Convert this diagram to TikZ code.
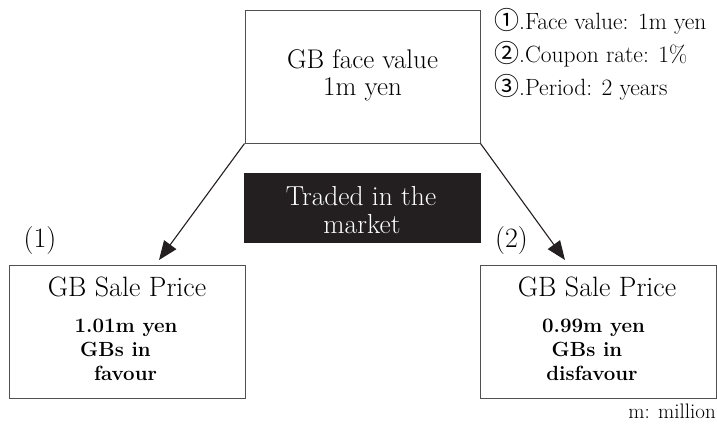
\documentclass[tikz,border=0pt]{standalone}
\usepackage{fontspec}
\newfontfamily\circfont{Noto Sans CJK JP}
\usetikzlibrary{arrows.meta}
\definecolor{ink}{RGB}{35,31,32}
\definecolor{edgegray}{RGB}{80,80,80}
\newcommand{\circnum}[1]{{\circfont\fontsize{25}{25}\selectfont #1}}
\begin{document}
\begin{tikzpicture}[x=1pt,y=-1pt,
  box/.style={draw=edgegray, line width=1pt, inner sep=0pt, fill=white},
  darkbox/.style={fill=ink, draw=ink, inner sep=0pt},
  big/.style={font=\fontsize{28}{28}\selectfont, inner sep=0pt, anchor=base},
  boldtxt/.style={font=\fontsize{20.5}{20.5}\selectfont\bfseries, inner sep=0pt, anchor=base},
  listtxt/.style={font=\fontsize{23.5}{23.5}\selectfont, inner sep=0pt, anchor=base west},
  arr/.style={draw=ink, line width=1.1pt, -{Triangle[length=19pt,width=15pt]}}]
\useasboundingbox (0,0) rectangle (717,424);
% boxes
\node[box, minimum width=235pt, minimum height=133pt] (top) at (362.5,76.5) {};
\node[darkbox, minimum width=236pt, minimum height=69pt] (market) at (362,207.5) {};
\node[box, minimum width=236pt, minimum height=133pt] (left) at (127,331.5) {};
\node[box, minimum width=236pt, minimum height=133pt] (right) at (598,331.5) {};
% top box text
\node[big, font=\fontsize{27}{27}\selectfont] (t1) at (362.5,68.5) {GB face value};
\node[big, font=\fontsize{27}{27}\selectfont] (t2) at (362.5,95.5) {1m yen};
% market text
\node[big, text=white, font=\fontsize{27.5}{27.5}\selectfont] (m1) at (361,205.5) {Traded in the};
\node[big, text=white, font=\fontsize{27.5}{27.5}\selectfont] (m2) at (362,233) {market};
% left box text
\node[big] (l1) at (127,296) {GB Sale Price};
\node[boldtxt] (l2) at (126,332) {1.01m yen};
\node[boldtxt] (l3) at (115.5,356) {GBs in};
\node[boldtxt] (l4) at (125.5,380) {favour};
% right box text
\node[big] (r1) at (597,296) {GB Sale Price};
\node[boldtxt] (r2) at (593.5,332) {0.99m yen};
\node[boldtxt] (r3) at (587,356) {GBs in};
\node[boldtxt] (r4) at (592,380) {disfavour};
% labels
\node[big] (n1) at (40,247) {(1)};
\node[big] (n2) at (511.5,247) {(2)};
% list
\node[listtxt] (i1) at (494,29) {\circnum{①}.Face value: 1m yen};
\node[listtxt] (i2) at (494,62) {\circnum{②}.Coupon rate: 1\%};
\node[listtxt] (i3) at (494,95) {\circnum{③}.Period: 2 years};
% note
\node[font=\fontsize{21}{21}\selectfont, inner sep=0pt, anchor=base east] (note) at (716,418) {m: million};
% arrows
\coordinate (tipL) at (159,260);
\coordinate (tipR) at (565,260);
\draw[arr] (top.south west) -- (tipL);
\draw[arr] (top.south east) -- (tipR);
\end{tikzpicture}
\end{document}
